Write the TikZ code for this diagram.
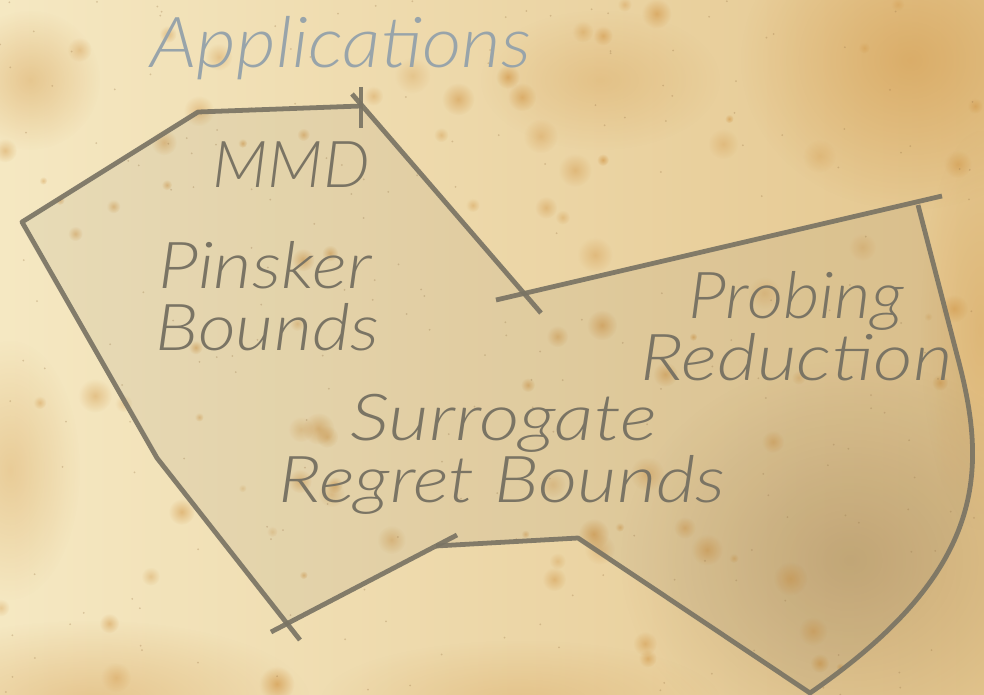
\documentclass[tikz,border=0pt]{standalone}
\usepackage{fontspec}
\setmainfont{Lato}[UprightFont=* Light, ItalicFont=* Light Italic]
\usetikzlibrary{fadings}
\tikzfading[name=softdot, inner color=transparent!0, outer color=transparent!100]
\definecolor{paperL}{RGB}{245,232,194}
\definecolor{paperR}{RGB}{228,198,142}
\definecolor{stain}{RGB}{205,140,55}
\definecolor{stainD}{RGB}{150,115,70}
\definecolor{ink}{RGB}{122,116,100}
\definecolor{inkblue}{RGB}{152,164,170}
\begin{document}
\begin{tikzpicture}[x=0.025cm,y=-0.025cm,
  sketch/.style={draw=ink, line width=3.4pt, line join=round, opacity=0.92},
  hand/.style={text=ink, inner sep=0pt, anchor=base west, font=\itshape\fontsize{46}{52}\selectfont},
  blot/.style={fill=stain, path fading=softdot}]
\useasboundingbox (0,0) rectangle (984,695);
% paper
\shade[left color=paperL, right color=paperR] (0,0) rectangle (984,695);
\fill[stainD, opacity=0.35, path fading=softdot] (850,560) ellipse (230 and 200);
\fill[stain, opacity=0.45, path fading=softdot] (910,60) ellipse (170 and 150);
\fill[stain, opacity=0.3, path fading=softdot] (10,470) ellipse (70 and 130);
\fill[stain, opacity=0.35, path fading=softdot] (90,700) ellipse (220 and 80);
\fill[stain, opacity=0.25, path fading=softdot] (520,700) ellipse (200 and 60);
\fill[stain, opacity=0.35, path fading=softdot] (30,80) ellipse (70 and 70);
\fill[stain, opacity=0.25, path fading=softdot] (600,80) ellipse (120 and 70);
\fill[stain, opacity=0.25, path fading=softdot] (980,330) ellipse (60 and 200);
\pgfmathsetseed{11}
\foreach \i in {1,...,90} {
  \pgfmathsetmacro\px{rnd*984}
  \pgfmathsetmacro\py{rnd*695}
  \pgfmathsetmacro\pr{4+rnd*14}
  \pgfmathsetmacro\po{0.25+rnd*0.35}
  \fill[blot, opacity=\po] (\px,\py) circle (\pr);
}
\foreach \i in {1,...,220} {
  \pgfmathsetmacro\px{rnd*984}
  \pgfmathsetmacro\py{rnd*695}
  \fill[stainD, opacity=0.3] (\px,\py) circle (1);
}
% region fill
\fill[ink, opacity=0.10] (361,106) -- (524,293) -- (917,202) -- (957,355)
  .. controls (988,470) and (988,570) .. (810,692) -- (578,538) -- (436,546)
  -- (288,623) -- (157,458) -- (22,222) -- (198,112) -- cycle;
% outline strokes
\coordinate (t1) at (361,87); \coordinate (t2) at (361,128);
\coordinate (a0) at (361,106); \coordinate (a1) at (198,112);
\coordinate (a2) at (22,222); \coordinate (a3) at (157,458);
\coordinate (a4) at (300,640);
\coordinate (b0) at (271,632); \coordinate (b1) at (457,535);
\coordinate (c0) at (436,546); \coordinate (c1) at (578,538);
\coordinate (c2) at (810,693); \coordinate (c3) at (957,355);
\coordinate (c4) at (918,205);
\coordinate (d0) at (496,300); \coordinate (d1) at (942,196);
\coordinate (e0) at (352,94); \coordinate (e1) at (541,313);
\draw[sketch] (t1) -- (t2);
\draw[sketch] (a0) -- (a1) -- (a2) -- (a3) -- (a4);
\draw[sketch] (b0) -- (b1);
\draw[sketch] (c0) -- (c1) -- (c2) .. controls (988,570) and (988,470) .. (c3) -- (c4);
\draw[sketch] (d0) -- (d1);
\draw[sketch] (e0) -- (e1);
% labels
\node[hand, text=inkblue, font=\itshape\fontsize{50}{56}\selectfont, xscale=1.09] (app) at (150,68) {Applications};
\node[hand, xscale=1.02] (mmd) at (212,188) {MMD};
\node[hand, xscale=1.15] (pin1) at (158,288) {Pinsker};
\node[hand, xscale=1.14] (pin2) at (155,350) {Bounds};
\node[hand, xscale=1.09] (pro1) at (688,318) {Probing};
\node[hand, xscale=1.19] (pro2) at (640,380) {Reduction};
\node[hand, xscale=1.22] (sur1) at (350,440) {Surrogate};
\node[hand, xscale=1.18] (sur2) at (278,502) {Regret Bounds};
\end{tikzpicture}
\end{document}
